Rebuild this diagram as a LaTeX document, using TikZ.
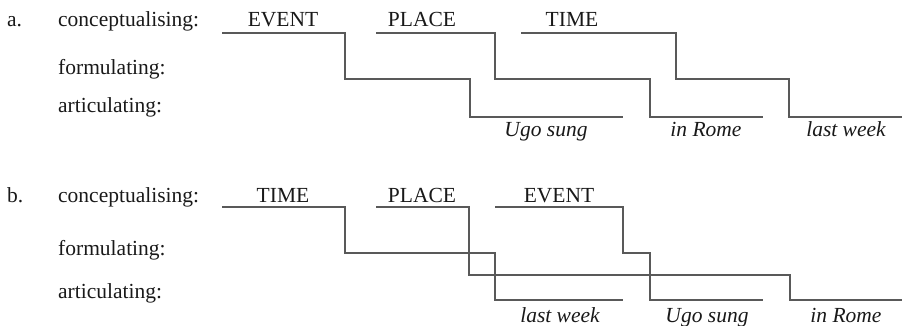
\documentclass[tikz,border=0pt]{standalone}
\usepackage{fontspec}
\setmainfont{Liberation Serif}
\begin{document}
\begin{tikzpicture}[x=1pt,y=-1pt,
  lbl/.style={anchor=base west,inner sep=0pt,font=\fontsize{21.5}{24}\selectfont,text=black!90},
  cpt/.style={anchor=base,inner sep=0pt,font=\fontsize{21.5}{24}\selectfont,text=black!90},
  wrd/.style={anchor=base,inner sep=0pt,font=\fontsize{21.5}{24}\selectfont\itshape,text=black!90},
  stepline/.style={draw=black!65,line width=1.3pt,line join=miter}]
\useasboundingbox (0,0) rectangle (902,326);

% ---------- a ----------
\node[lbl] (alab) at (7,27) {a.};
\node[lbl] (acon) at (58,27) {conceptualising:};
\node[lbl] (afor) at (58,75) {formulating:};
\node[lbl] (aart) at (58,113) {articulating:};

\node[cpt] (aEV) at (283,27) {EVENT};
\node[cpt] (aPL) at (422,27) {PLACE};
\node[cpt] (aTI) at (572,27) {TIME};

\node[wrd] (aUgo) at (546,137) {Ugo sung};
\node[wrd] (aRome) at (706,137) {in Rome};
\node[wrd] (aWeek) at (846,137) {last week};

\draw[stepline] (222,33) -- (345,33) -- (345,79) -- (470,79) -- (470,117) -- (623,117);
\draw[stepline] (376,33) -- (495,33) -- (495,79) -- (650,79) -- (650,117) -- (763,117);
\draw[stepline] (521,33) -- (676,33) -- (676,79) -- (789,79) -- (789,117) -- (902,117);

% ---------- b ----------
\node[lbl] (blab) at (7,202) {b.};
\node[lbl] (bcon) at (58,202) {conceptualising:};
\node[lbl] (bfor) at (58,255) {formulating:};
\node[lbl] (bart) at (58,298) {articulating:};

\node[cpt] (bTI) at (283,202) {TIME};
\node[cpt] (bPL) at (422,202) {PLACE};
\node[cpt] (bEV) at (559,202) {EVENT};

\node[wrd] (bWeek) at (560,322) {last week};
\node[wrd] (bUgo) at (707,322) {Ugo sung};
\node[wrd] (bRome) at (846,322) {in Rome};

\draw[stepline] (222,207) -- (345,207) -- (345,253) -- (495,253) -- (495,300) -- (623,300);
\draw[stepline] (376,207) -- (469,207) -- (469,275) -- (790,275) -- (790,300) -- (902,300);
\draw[stepline] (495,207) -- (623,207) -- (623,253) -- (650,253) -- (650,300) -- (763,300);
\end{tikzpicture}
\end{document}
